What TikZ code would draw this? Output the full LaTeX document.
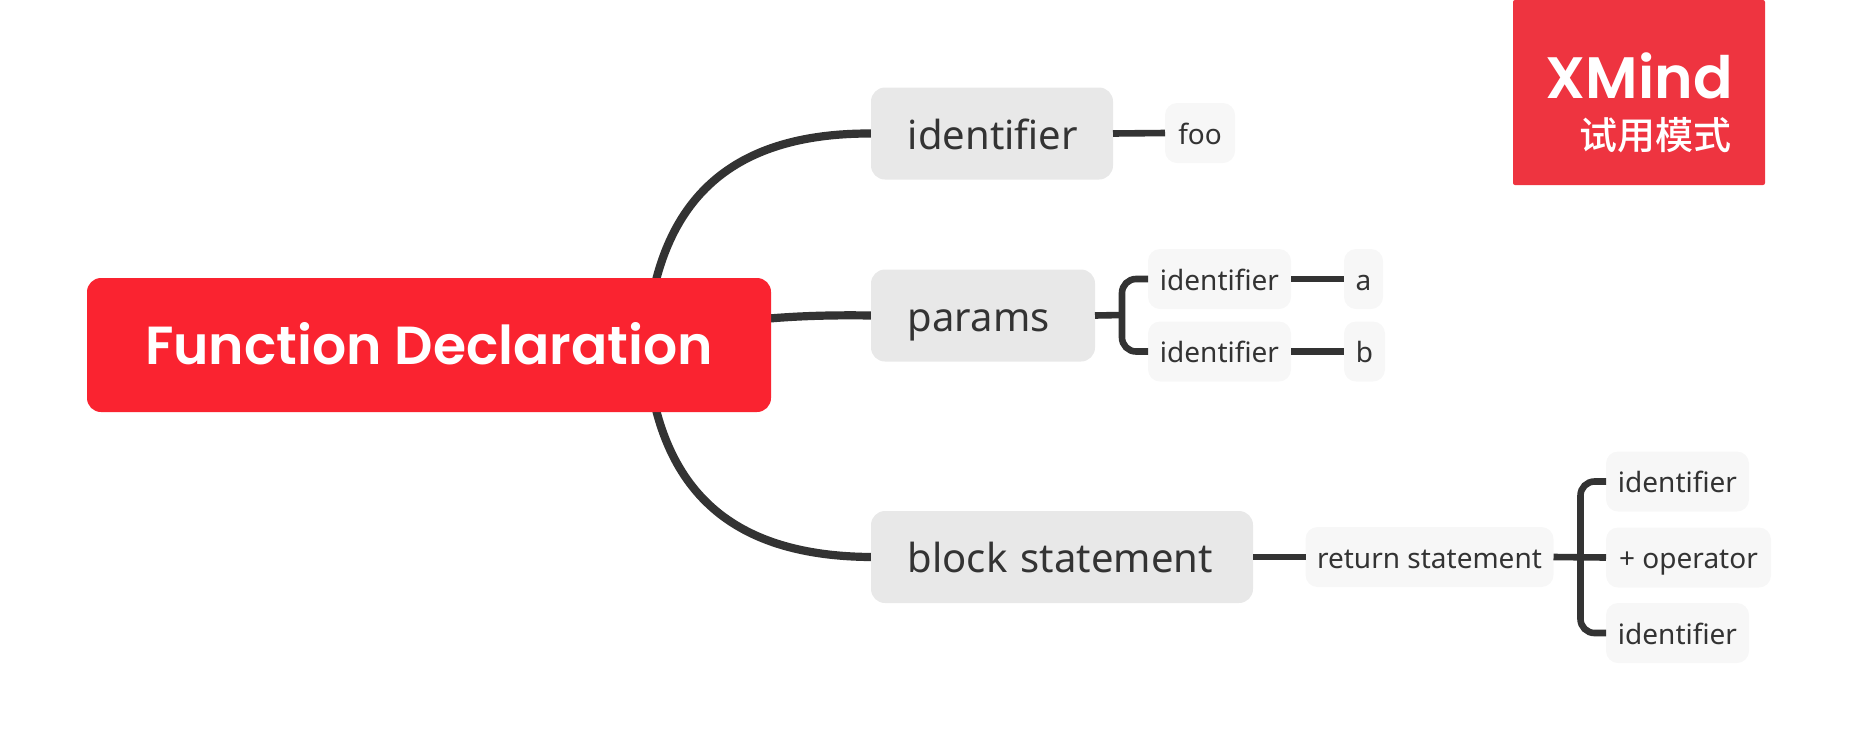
\documentclass[tikz,border=0pt]{standalone}
\usepackage{fontspec}
\setmainfont{Noto Sans}
\newfontfamily\titlefont{Poppins SemiBold}
\newfontfamily\cjkfont{Noto Sans CJK SC Medium}
\usetikzlibrary{backgrounds}
\definecolor{rootred}{HTML}{FA2330}
\definecolor{markred}{HTML}{EE3440}
\definecolor{linegray}{HTML}{333333}
\definecolor{topicgray}{HTML}{E8E8E8}
\definecolor{subgray}{HTML}{F7F7F7}
\tikzset{
  rootbox/.style={fill=rootred, text=white, rounded corners=7pt, outer sep=0pt, minimum height=67pt,
    text depth=1.2pt, font=\fontsize{26.8}{30}\selectfont\titlefont},
  topicbox/.style={fill=topicgray, text=linegray, rounded corners=7pt, outer sep=0pt, minimum height=46pt,
    inner xsep=18.4pt, align=left, text height=15.6pt, text depth=0pt,
    font=\fontsize{20}{24}\selectfont},
  subbox/.style={fill=subgray, text=linegray, rounded corners=6pt, outer sep=0pt, minimum height=30pt,
    text height=11.4pt, text depth=0pt,
    font=\fontsize{14}{17}\selectfont},
  markbox/.style={fill=markred, rounded corners=1pt, outer sep=0pt},
  marktext/.style={text=white, anchor=base east, inner sep=0pt},
  branch/.style={draw=linegray, line width=4.1pt},
  twig/.style={draw=linegray, line width=3.3pt},
  elbow/.style={twig, rounded corners=7pt},
}

\begin{document}
\begin{tikzpicture}[x=0.5pt, y=-0.5pt]
        \useasboundingbox (0,0) rectangle (1859,751);
        \node [rootbox, minimum width=342pt]  (root)    at (429,345)     {Function Declaration};
        \coordinate (roothub) at (646,345);

        \node [topicbox, text width=84.2pt]   (ident)   at (992,133.5)   {identifier};
        \node [topicbox, text width=75.2pt]   (params)  at (983,315.5)   {params};
        \node [topicbox, text width=154.2pt]  (block)   at (1062,557)    {\mbox{block statement}};

        \node [subbox, minimum width=35pt]    (foo)     at (1200,133)    {foo};
        \node [subbox, minimum width=71.5pt]  (parama)  at (1219.5,279)  {identifier};
        \node [subbox, minimum width=19.5pt]  (vala)    at (1363.5,279)  {a};
        \node [subbox, minimum width=71.5pt]  (paramb)  at (1219.5,351.5) {identifier};
        \node [subbox, minimum width=20.5pt]  (valb)    at (1364.5,351.5) {b};
        \node [subbox, minimum width=124pt]   (ret)     at (1429.5,557)  {return statement};
        \node [subbox, minimum width=71.5pt]  (left)    at (1677.5,481.5) {identifier};
        \node [subbox, minimum width=82.5pt]  (plus)    at (1688.5,557.5) {+ operator};
        \node [subbox, minimum width=71.5pt]  (right)   at (1677.5,633)  {identifier};

        \coordinate (paramhub) at (1122,315);
        \coordinate (rethub)   at (1580.5,557);

        \begin{scope}[on background layer]
        \draw [branch] (roothub) .. controls (656,200) and (730,133) .. (ident.west);
        \draw [branch] (roothub) .. controls (700,322) and (780,314) .. (params.west);
        \draw [branch] (roothub) .. controls (656,490) and (730,556) .. (block.west);
        \end{scope}

        \draw [twig]  (ident.east)  -- (foo.west);
        \draw [twig]  (params.east) -- (paramhub);
        \draw [elbow] (parama.west) -| (paramhub) |- (paramb.west);
        \draw [twig]  (parama.east) -- (vala.west);
        \draw [twig]  (paramb.east) -- (valb.west);
        \draw [twig]  (block.east)  -- (ret.west);
        \draw [twig]  (ret.east)    -- (plus.west);
        \draw [elbow] (left.west) -| (rethub) |- (right.west);

        % trial mark
        \node [markbox, minimum width=126pt, minimum height=92.5pt] (mark) at (1639,92.5) {};
        \node [marktext, font=\fontsize{29.2}{36}\selectfont\titlefont] (markname) at (1733,98) {XMind};
        \node [marktext, font=\fontsize{19}{22}\selectfont\cjkfont] (markmode) at (1732,149) {试用模式};
      \end{tikzpicture}
\end{document}
